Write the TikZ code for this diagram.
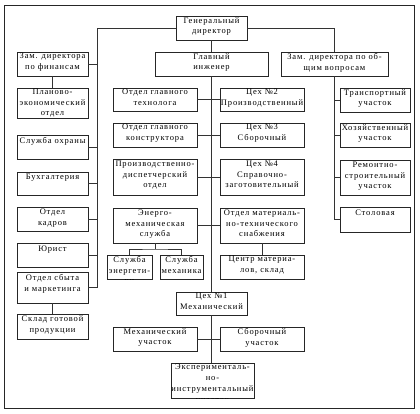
\documentclass[tikz,border=0pt]{standalone}
\usepackage{fontspec}
\setmainfont{Liberation Serif}[LetterSpace=10]

\tikzset{
  orgbox/.style={draw=black!85, line width=0.8pt, inner sep=0pt},
  orgtext/.style={align=center, inner sep=0pt, font=\fontsize{8.5}{10.7}\selectfont},
  orgline/.style={draw=black!80, line width=0.8pt}
}

\begin{document}
\begin{tikzpicture}[x=1pt, y=-1pt]
\useasboundingbox (0,0) rectangle (420,414);
\draw[line width=0.8pt, black!85] (4,5) rectangle (414,408);

% top
\node[orgbox, minimum width=71pt, minimum height=24pt] (gd) at (211.5,28) {};
\node[orgtext, below=1.5pt] (gd-t) at (gd.north) {Генеральный\\директор};

% finance column
\node[orgbox, minimum width=71pt, minimum height=24pt] (zf) at (52.5,64) {};
\node[orgtext, below=1.5pt] (zf-t) at (zf.north) {Зам. директора\\по финансам};

\node[orgbox, minimum width=71pt, minimum height=30pt] (pe) at (52.5,103) {};
\node[orgtext, below=1pt] (pe-t) at (pe.north) {Планово-\\экономический\\отдел};

\node[orgbox, minimum width=71pt, minimum height=24pt] (so) at (52.5,147) {};
\node[orgtext, below=3pt] (so-t) at (so.north) {Служба охраны};

\node[orgbox, minimum width=71pt, minimum height=23pt] (bu) at (52.5,183.5) {};
\node[orgtext, below=2.5pt] (bu-t) at (bu.north) {Бухгалтерия};

\node[orgbox, minimum width=71pt, minimum height=24pt] (kd) at (52.5,219) {};
\node[orgtext, below=2pt] (kd-t) at (kd.north) {Отдел\\кадров};

\node[orgbox, minimum width=71pt, minimum height=24pt] (yu) at (52.5,255) {};
\node[orgtext, below=3pt] (yu-t) at (yu.north) {Юрист};

\node[orgbox, minimum width=71pt, minimum height=31pt] (sm) at (52.5,287.5) {};
\node[orgtext, below=3pt] (sm-t) at (sm.north) {Отдел сбыта\\и маркетинга};

\node[orgbox, minimum width=71pt, minimum height=25pt] (sg) at (52.5,326.5) {};
\node[orgtext, below=2pt] (sg-t) at (sg.north) {Склад готовой\\продукции};

% engineer column
\node[orgbox, minimum width=113pt, minimum height=24pt] (gi) at (211.5,64) {};
\node[orgtext, below=1.5pt] (gi-t) at (gi.north) {Главный\\инженер};

\node[orgbox, minimum width=84pt, minimum height=23pt] (ot) at (155,99.5) {};
\node[orgtext, below=1.5pt] (ot-t) at (ot.north) {Отдел главного\\технолога};

\node[orgbox, minimum width=84pt, minimum height=23pt] (c2) at (262,99.5) {};
\node[orgtext, below=1.5pt] (c2-t) at (c2.north) {Цех №2\\Производственный};

\node[orgbox, minimum width=84pt, minimum height=24pt] (kn) at (155,135) {};
\node[orgtext, below=1.5pt] (kn-t) at (kn.north) {Отдел главного\\конструктора};

\node[orgbox, minimum width=84pt, minimum height=24pt] (c3) at (262,135) {};
\node[orgtext, below=1.5pt] (c3-t) at (c3.north) {Цех №3\\Сборочный};

\node[orgbox, minimum width=84pt, minimum height=36pt] (pd) at (155,177) {};
\node[orgtext, below=2pt] (pd-t) at (pd.north) {Производственно-\\диспетчерский\\отдел};

\node[orgbox, minimum width=84pt, minimum height=36pt] (c4) at (262,177) {};
\node[orgtext, below=2pt] (c4-t) at (c4.north) {Цех №4\\Справочно-\\заготовительный};

\node[orgbox, minimum width=84pt, minimum height=35pt] (em) at (155,225.5) {};
\node[orgtext, below=2pt] (em-t) at (em.north) {Энерго-\\механическая\\служба};

\node[orgbox, minimum width=84pt, minimum height=35pt] (mt) at (262,225.5) {};
\node[orgtext, below=2pt] (mt-t) at (mt.north) {Отдел материаль-\\но-технического\\снабжения};

\node[orgbox, minimum width=45pt, minimum height=24pt] (se) at (129.5,267) {};
\begin{scope}
\clip (se.south west) rectangle (se.north east);
\node[orgtext, below=1.5pt] (se-t) at (se.north) {Служба\\энергети-\\ки};
\end{scope}

\node[orgbox, minimum width=43pt, minimum height=24pt] (sme) at (181.5,267) {};
\node[orgtext, below=1.5pt] (sme-t) at (sme.north) {Служба\\механика};

\node[orgbox, minimum width=84pt, minimum height=24pt] (cm) at (262,267) {};
\node[orgtext, below=1.5pt] (cm-t) at (cm.north) {Центр материа-\\лов, склад};

\node[orgbox, minimum width=71pt, minimum height=23pt] (c1) at (211.5,303.5) {};
\node[orgtext, below=1.5pt] (c1-t) at (c1.north) {Цех №1\\Механический};

\node[orgbox, minimum width=84pt, minimum height=24pt] (mu) at (155,339) {};
\node[orgtext, below=1.5pt] (mu-t) at (mu.north) {Механический\\участок};

\node[orgbox, minimum width=84pt, minimum height=24pt] (su) at (262,339) {};
\node[orgtext, below=1.5pt] (su-t) at (su.north) {Сборочный\\участок};

\node[orgbox, minimum width=83pt, minimum height=35pt] (ei) at (212.5,380.5) {};
\begin{scope}
\clip (ei.south west) rectangle (ei.north east);
\node[orgtext, below=1.5pt] (ei-t) at (ei.north) {Эксперименталь-\\но-\\инструментальный\\участок};
\end{scope}

% general affairs column
\node[orgbox, minimum width=107pt, minimum height=24pt] (zo) at (334.5,64) {};
\node[orgtext, below=1.5pt] (zo-t) at (zo.north) {Зам. директора по об-\\щим вопросам};

\node[orgbox, minimum width=70pt, minimum height=24pt] (tr) at (375,100) {};
\node[orgtext, below=1.5pt] (tr-t) at (tr.north) {Транспортный\\участок};

\node[orgbox, minimum width=70pt, minimum height=24pt] (hz) at (375,135) {};
\node[orgtext, below=1.5pt] (hz-t) at (hz.north) {Хозяйственный\\участок};

\node[orgbox, minimum width=70pt, minimum height=35pt] (rs) at (375,177.5) {};
\node[orgtext, below=2pt] (rs-t) at (rs.north) {Ремонтно-\\строительный\\участок};

\node[orgbox, minimum width=70pt, minimum height=25pt] (st) at (375,219.5) {};
\node[orgtext, below=3pt] (st-t) at (st.north) {Столовая};

% connectors
\coordinate (lb) at (97,0);
\coordinate (emj) at (155,249);

\draw[orgline] (gd.west) -| (lb |- sm.east) -- (sm.east);
\draw[orgline] (zf.east) -- (lb |- zf.east);
\draw[orgline] (so.east) -- (lb |- so.east);
\draw[orgline] (bu.east) -- (lb |- bu.east);
\draw[orgline] (kd.east) -- (lb |- kd.east);
\draw[orgline] (yu.east) -- (lb |- yu.east);
\draw[orgline] (zf.south) -- (pe.north);
\draw[orgline] (sm.south) -- (sg.north);

\draw[orgline] (gd.east) -| (zo.north);
\draw[orgline] (zo.south) |- (st.west);
\draw[orgline] (tr.west) -- (zo.south |- tr.west);
\draw[orgline] (hz.west) -- (zo.south |- hz.west);
\draw[orgline] (rs.west) -- (zo.south |- rs.west);

\draw[orgline] (gd.south) -- (gi.north);
\draw[orgline] (gi.south) -- (c1.north);
\draw[orgline] (c1.south) -- (c1.south |- ei.north);

\draw[orgline] (ot.east) -- (c2.west);
\draw[orgline] (kn.east) -- (c3.west);
\draw[orgline] (pd.east) -- (c4.west);
\draw[orgline] (em.east) -- (mt.west);
\draw[orgline] (mt.south) -- (cm.north);
\draw[orgline] (em.south) -- (emj);
\draw[orgline] (se.north) |- (emj) -| (sme.north);
\draw[orgline] (mu.east) -- (su.west);

\end{tikzpicture}
\end{document}
